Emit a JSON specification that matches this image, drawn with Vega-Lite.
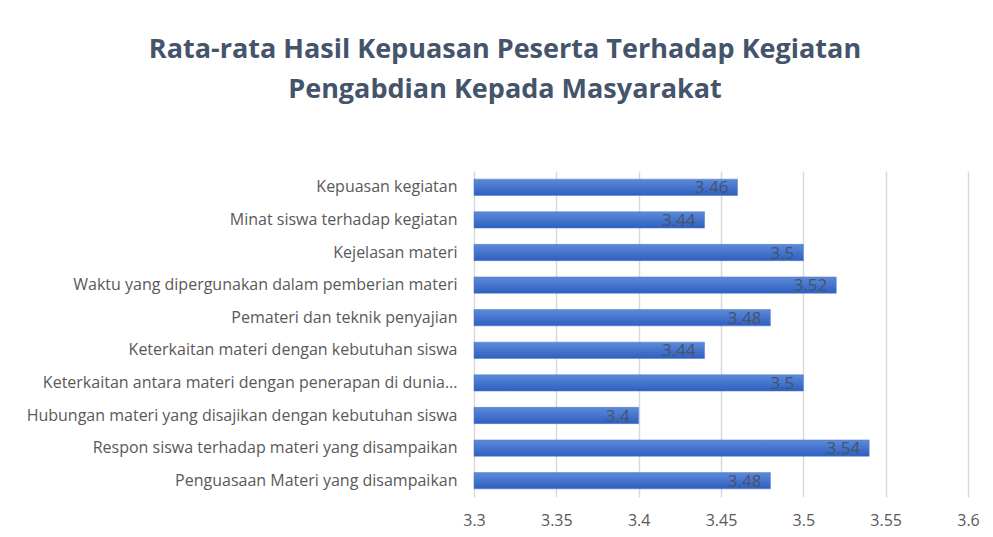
{
  "$schema": "https://vega.github.io/schema/vega-lite/v6.json",
  "autosize": "none",
  "width": 494,
  "height": 326,
  "padding": {"left": 474, "top": 171, "right": 25, "bottom": 40},
  "background": "white",
  "title": {
    "text": ["Rata-rata Hasil Kepuasan Peserta Terhadap Kegiatan", "Pengabdian Kepada Masyarakat"],
    "font": "Open Sans",
    "fontSize": 27,
    "fontWeight": "bold",
    "color": "#44546a",
    "anchor": "middle",
    "dx": -216,
    "offset": 67,
    "lineHeight": 40
  },
  "data": {
    "values": [
      {"aspek": "Kepuasan kegiatan", "nilai": 3.46},
      {"aspek": "Minat siswa terhadap kegiatan", "nilai": 3.44},
      {"aspek": "Kejelasan materi", "nilai": 3.5},
      {"aspek": "Waktu yang dipergunakan dalam pemberian materi", "nilai": 3.52},
      {"aspek": "Pemateri dan teknik penyajian", "nilai": 3.48},
      {"aspek": "Keterkaitan materi dengan kebutuhan siswa", "nilai": 3.44},
      {"aspek": "Keterkaitan antara materi dengan penerapan di dunia...", "nilai": 3.5},
      {"aspek": "Hubungan materi yang disajikan dengan kebutuhan siswa", "nilai": 3.4},
      {"aspek": "Respon siswa terhadap materi yang disampaikan", "nilai": 3.54},
      {"aspek": "Penguasaan Materi yang disampaikan", "nilai": 3.48}
    ]
  },
  "encoding": {
    "y": {
      "field": "aspek",
      "type": "nominal",
      "sort": null,
      "title": null,
      "scale": {"paddingInner": 0.5, "paddingOuter": 0.25},
      "axis": {
        "ticks": false,
        "domain": false,
        "labelFont": "Open Sans",
        "labelFontSize": 16,
        "labelColor": "#595959",
        "labelPadding": 17,
        "labelLimit": 0
      }
    },
    "x": {
      "field": "nilai",
      "type": "quantitative",
      "title": null,
      "scale": {"domain": [3.3, 3.6], "zero": false, "nice": false},
      "axis": {
        "values": [3.3, 3.35, 3.4, 3.45, 3.5, 3.55, 3.6],
        "format": "~g",
        "ticks": false,
        "domain": false,
        "grid": true,
        "gridColor": "#d9d9d9",
        "gridWidth": 1.5,
        "labelFont": "Open Sans",
        "labelFontSize": 16,
        "labelColor": "#595959",
        "labelPadding": 15,
        "labelFlush": false
      }
    }
  },
  "layer": [
    {
      "mark": {
        "type": "bar",
        "color": {
          "gradient": "linear",
          "x1": 0, "y1": 0, "x2": 0, "y2": 1,
          "stops": [
            {"offset": 0, "color": "#5d8ad8"},
            {"offset": 1, "color": "#2f5fc0"}
          ]
        },
        "stroke": "#4a78cf",
        "strokeWidth": 0.5
      },
      "encoding": {
        "x2": {"datum": 3.3}
      }
    },
    {
      "mark": {
        "type": "text",
        "align": "right",
        "baseline": "middle",
        "dx": -9,
        "dy": 1,
        "font": "Open Sans",
        "fontSize": 17,
        "color": "#44546a"
      },
      "encoding": {
        "text": {"field": "nilai", "type": "quantitative"}
      }
    }
  ],
  "config": {
    "view": {"stroke": null}
  }
}
